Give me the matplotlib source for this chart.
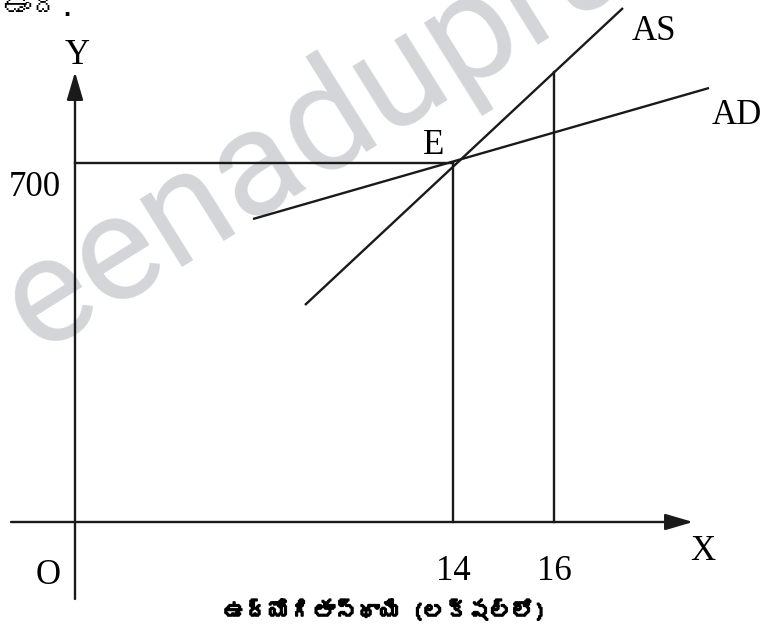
import numpy as np
import matplotlib
matplotlib.use("Agg")
import matplotlib.pyplot as plt
import matplotlib.patheffects as pe
from matplotlib import font_manager
from matplotlib.ft2font import FT2Font

# Diagram data (schematic units, origin at O)
emp_pos = [37.8, 47.9]          # positions of employment levels on the X axis
emp_labels = ["14", "16"]
price_pos = 35.9                # position of price level 700 on the Y axis
price_label = "700"
as_x = [23.0, 54.8]
as_y = [21.7, 51.4]
ad_x = [17.8, 63.4]
ad_y = [30.3, 43.4]
x_axis = [-6.4, 61.8]
y_axis = [-7.7, 45.0]

xlabel = "ఉద్యోగితాస్థాయి (లక్షల్లో)"
top_text = "ఉంది."
watermark = "eenadupratibha"


def find_font(ch):
    # first installed family that has the glyph
    for f in font_manager.fontManager.ttflist:
        try:
            if ord(ch) in FT2Font(f.fname).get_charmap():
                return f.name
        except Exception:
            pass
    return None


tel = find_font("ఉ")
tel_family = [tel, "DejaVu Sans"] if tel else ["DejaVu Sans"]

plt.rcParams["font.family"] = ["Liberation Serif", "DejaVu Serif"]

fig = plt.figure(figsize=(7.62, 6.4), dpi=100)
ax = fig.add_axes([0, 0, 1, 1])
ax.set_xlim(-7.5, 68.7)
ax.set_ylim(-11.8, 52.2)
ax.axis("off")

lc = "#1a1a1a"
lw = 1.7

# watermark
ax.text(-6.0, 20.3, watermark, rotation=32, rotation_mode="anchor",
        ha="left", va="center", fontsize=109, color="#d3d5d8",
        family="Roboto", zorder=0)

# axes with arrows
arrow = dict(arrowstyle="-|>,head_length=0.85,head_width=0.25",
             mutation_scale=20, lw=lw, color=lc, shrinkA=0, shrinkB=0)
ax.annotate("", xy=(x_axis[1], 0), xytext=(x_axis[0], 0), arrowprops=arrow)
ax.annotate("", xy=(0, y_axis[1]), xytext=(0, y_axis[0]), arrowprops=arrow)

# AS and AD curves
ax.plot(as_x, as_y, color=lc, lw=lw, solid_capstyle="butt")
ax.plot(ad_x, ad_y, color=lc, lw=lw, solid_capstyle="butt")

# guide lines
ax.plot([0, emp_pos[0]], [price_pos, price_pos], color=lc, lw=lw)
ax.plot([emp_pos[0], emp_pos[0]], [0, price_pos], color=lc, lw=lw)
top16 = np.interp(emp_pos[1], as_x, as_y)
ax.plot([emp_pos[1], emp_pos[1]], [0, top16], color=lc, lw=lw)

fs = 25
ax.text(0.2, 46.7, "Y", fontsize=fs, ha="center", va="center")
ax.text(62.8, -3.0, "X", fontsize=fs, ha="center", va="center")
ax.text(-2.7, -5.3, "O", fontsize=fs, ha="center", va="center")
ax.text(-4.0, 33.4, price_label, fontsize=fs, ha="center", va="center")
ax.text(35.9, 37.7, "E", fontsize=fs, ha="center", va="center")
ax.text(57.9, 49.0, "AS", fontsize=fs, ha="center", va="center")
ax.text(63.7, 40.7, "AD", fontsize=fs, ha="left", va="center")
for p, lab in zip(emp_pos, emp_labels):
    ax.text(p, -4.9, lab, fontsize=fs, ha="center", va="center")

bold = [pe.withStroke(linewidth=1.3, foreground="black")]
ax.text(31.0, -8.9, xlabel, fontsize=16, fontweight="bold",
        ha="center", va="center", family=tel_family, color="black",
        path_effects=bold)
ax.text(-7.3, 51.4, top_text, fontsize=21, ha="left", va="center",
        family=tel_family)

fig.savefig("out.png", dpi=100)
